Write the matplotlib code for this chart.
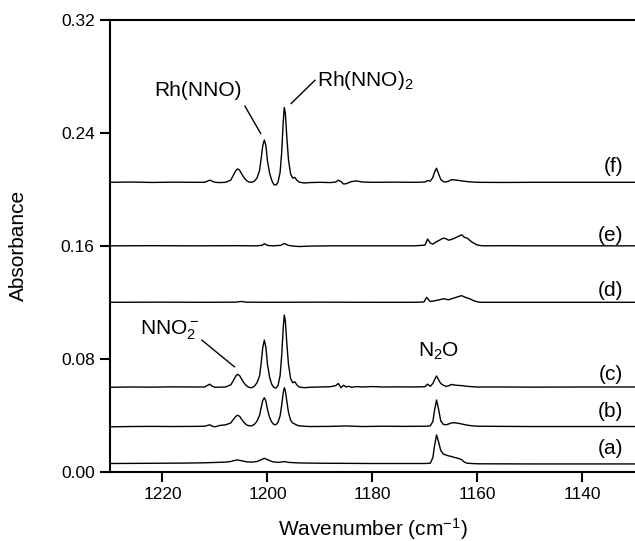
import matplotlib
matplotlib.use("Agg")
import matplotlib.pyplot as plt
import numpy as np

plt.rcParams['font.family'] = ['Liberation Sans', 'DejaVu Sans']
plt.rcParams['mathtext.fontset'] = 'custom'
plt.rcParams['mathtext.rm'] = 'Liberation Sans'
plt.rcParams['mathtext.it'] = 'Liberation Sans:italic'

# (wavenumber, absorbance) points
trace_a = [
    (1230, 0.0058), (1225, 0.0059), (1220, 0.0060), (1216, 0.0061), (1212, 0.0063),
    (1208, 0.0068), (1207, 0.0072), (1206.5, 0.0078), (1205.7, 0.0083), (1205, 0.0078),
    (1204, 0.0070), (1203, 0.0068), (1202, 0.0072), (1201, 0.0088), (1200.6, 0.0095),
    (1200, 0.0085), (1199, 0.0070), (1198, 0.0066), (1197, 0.0070), (1196.8, 0.0072),
    (1196, 0.0066), (1194, 0.0062), (1190, 0.0060), (1185, 0.0059), (1180, 0.0058),
    (1175, 0.0058), (1170, 0.0058), (1169, 0.0060), (1168.5, 0.0100), (1168.2, 0.0180),
    (1167.8, 0.0260), (1167.4, 0.0210), (1167, 0.0150), (1166.5, 0.0125), (1166, 0.0118),
    (1165.5, 0.0112), (1165, 0.0108), (1164.5, 0.0102), (1164, 0.0098), (1163.5, 0.0092),
    (1163, 0.0085), (1162.5, 0.0068), (1162, 0.0060), (1160, 0.0056), (1150, 0.0055),
    (1140, 0.0055), (1130, 0.0055),
]

trace_b = [
    (1230, 0.0318), (1226, 0.0320), (1222, 0.0321), (1218, 0.0320), (1214, 0.0321),
    (1212, 0.0322), (1211, 0.0332), (1210.5, 0.0322), (1210, 0.0318), (1209, 0.0328),
    (1208, 0.0332), (1207, 0.0345), (1206.5, 0.0370), (1206, 0.0393), (1205.7, 0.0400),
    (1205.3, 0.0392), (1205, 0.0375), (1204.5, 0.0350), (1204, 0.0332), (1203.5, 0.0325),
    (1203, 0.0325), (1202.5, 0.0335), (1202, 0.0358), (1201.5, 0.0400), (1201.2, 0.0455),
    (1200.9, 0.0505), (1200.6, 0.0524), (1200.3, 0.0500), (1200, 0.0440), (1199.6, 0.0385),
    (1199.2, 0.0352), (1198.8, 0.0335), (1198.4, 0.0332), (1198, 0.0350), (1197.6, 0.0395),
    (1197.3, 0.0470), (1197.0, 0.0560), (1196.8, 0.0595), (1196.6, 0.0575), (1196.3, 0.0495),
    (1196, 0.0420), (1195.6, 0.0365), (1195.2, 0.0345), (1194.8, 0.0338), (1194.4, 0.0330),
    (1194, 0.0325), (1193, 0.0322), (1192, 0.0320), (1188, 0.0321), (1185, 0.0324),
    (1182, 0.0320), (1178, 0.0322), (1174, 0.0321), (1170, 0.0322), (1169.5, 0.0323),
    (1169, 0.0325), (1168.5, 0.0355), (1168.2, 0.0430), (1167.8, 0.0508), (1167.4, 0.0440),
    (1167, 0.0360), (1166.5, 0.0335), (1166, 0.0332), (1165.5, 0.0338), (1165, 0.0345),
    (1164.5, 0.0347), (1164, 0.0345), (1163.5, 0.0342), (1163, 0.0338), (1162, 0.0330),
    (1161, 0.0325), (1160, 0.0322), (1155, 0.0321), (1150, 0.0320), (1140, 0.0320),
    (1130, 0.0320),
]

trace_c = [
    (1230, 0.0598), (1226, 0.0600), (1222, 0.0599), (1218, 0.0601), (1214, 0.0600),
    (1212, 0.0600), (1211, 0.0620), (1210.5, 0.0605), (1210, 0.0598), (1208, 0.0600),
    (1207, 0.0615), (1206.5, 0.0645), (1206, 0.0680), (1205.7, 0.0690), (1205.3, 0.0680),
    (1205, 0.0660), (1204.5, 0.0630), (1204, 0.0608), (1203.5, 0.0597), (1203, 0.0595),
    (1202.5, 0.0605), (1202, 0.0630), (1201.5, 0.0680), (1201.2, 0.0770), (1200.9, 0.0880),
    (1200.6, 0.0932), (1200.3, 0.0880), (1200, 0.0760), (1199.6, 0.0670), (1199.2, 0.0620),
    (1198.8, 0.0597), (1198.4, 0.0592), (1198, 0.0610), (1197.6, 0.0680), (1197.3, 0.0820),
    (1197.0, 0.1020), (1196.8, 0.1110), (1196.6, 0.1070), (1196.3, 0.0900), (1196, 0.0760),
    (1195.6, 0.0660), (1195.2, 0.0630), (1194.8, 0.0637), (1194.4, 0.0615), (1194, 0.0600),
    (1193, 0.0595), (1192, 0.0598), (1190, 0.0600), (1188, 0.0602), (1187, 0.0610),
    (1186.5, 0.0625), (1186, 0.0595), (1185.5, 0.0612), (1185, 0.0600), (1184.5, 0.0605),
    (1184, 0.0598), (1183, 0.0603), (1182, 0.0600), (1180, 0.0603), (1178, 0.0600),
    (1175, 0.0601), (1172, 0.0600), (1170, 0.0602), (1169.5, 0.0620), (1169, 0.0605),
    (1168.5, 0.0625), (1168.2, 0.0650), (1167.8, 0.0678), (1167.4, 0.0650), (1167, 0.0625),
    (1166.5, 0.0612), (1166, 0.0605), (1165.5, 0.0608), (1165, 0.0618), (1164.5, 0.0615),
    (1164, 0.0612), (1163, 0.0610), (1162, 0.0605), (1161, 0.0602), (1160, 0.0600),
    (1155, 0.0600), (1150, 0.0599), (1140, 0.0600), (1130, 0.0600),
]

trace_d = [
    (1230, 0.1200), (1220, 0.1201), (1212, 0.1200), (1206, 0.1201), (1205, 0.1206),
    (1204, 0.1201), (1200, 0.1200), (1190, 0.1201), (1180, 0.1200), (1172, 0.1200),
    (1170.2, 0.1202), (1169.7, 0.1235), (1169, 0.1205), (1168, 0.1212), (1167, 0.1220),
    (1166.5, 0.1225), (1165.5, 0.1218), (1164.5, 0.1230), (1163.5, 0.1242), (1163, 0.1247),
    (1162.5, 0.1238), (1161.5, 0.1225), (1160.5, 0.1208), (1159.5, 0.1200), (1150, 0.1200),
    (1140, 0.1200), (1130, 0.1200),
]

trace_e = [
    (1230, 0.1600), (1222, 0.1601), (1214, 0.1600), (1206, 0.1601), (1202, 0.1600),
    (1201, 0.1604), (1200.6, 0.1615), (1200, 0.1603), (1199, 0.1600), (1197.5, 0.1603),
    (1196.8, 0.1617), (1196, 0.1603), (1195, 0.1598), (1194, 0.1595), (1192, 0.1598),
    (1188, 0.1600), (1180, 0.1600), (1172, 0.1600), (1170, 0.1605), (1169.5, 0.1648),
    (1169, 0.1620), (1168.5, 0.1612), (1168, 0.1625), (1167, 0.1645), (1166.5, 0.1655),
    (1166, 0.1650), (1165.5, 0.1640), (1165, 0.1645), (1164.5, 0.1652), (1164, 0.1660),
    (1163.5, 0.1670), (1163, 0.1678), (1162.5, 0.1660), (1162, 0.1655), (1161.5, 0.1640),
    (1161, 0.1625), (1160, 0.1605), (1159, 0.1600), (1155, 0.1601), (1150, 0.1600),
    (1140, 0.1600), (1130, 0.1600),
]

trace_f = [
    (1230, 0.2050), (1226, 0.2052), (1222, 0.2049), (1218, 0.2051), (1214, 0.2050),
    (1212, 0.2050), (1211, 0.2065), (1210, 0.2050), (1209, 0.2048), (1208, 0.2050),
    (1207, 0.2065), (1206.5, 0.2100), (1206, 0.2135), (1205.7, 0.2145), (1205.3, 0.2135),
    (1205, 0.2115), (1204.5, 0.2085), (1204, 0.2062), (1203.5, 0.2052), (1203, 0.2050),
    (1202.5, 0.2058), (1202, 0.2080), (1201.5, 0.2135), (1201.2, 0.2220), (1200.9, 0.2310),
    (1200.6, 0.2350), (1200.3, 0.2310), (1200, 0.2200), (1199.6, 0.2115), (1199.2, 0.2065),
    (1198.8, 0.2035), (1198.4, 0.2030), (1198, 0.2050), (1197.6, 0.2120), (1197.3, 0.2260),
    (1197.0, 0.2480), (1196.8, 0.2580), (1196.6, 0.2540), (1196.3, 0.2360), (1196, 0.2210),
    (1195.6, 0.2110), (1195.2, 0.2080), (1194.8, 0.2085), (1194.4, 0.2065), (1194, 0.2052),
    (1193, 0.2045), (1192, 0.2048), (1190, 0.2050), (1188, 0.2048), (1187, 0.2052),
    (1186.5, 0.2065), (1186, 0.2055), (1185.5, 0.2038), (1185, 0.2040), (1184.5, 0.2048),
    (1184, 0.2055), (1183, 0.2060), (1182, 0.2052), (1180, 0.2050), (1176, 0.2051),
    (1172, 0.2050), (1170, 0.2052), (1169.5, 0.2062), (1169, 0.2058), (1168.5, 0.2085),
    (1168.2, 0.2120), (1167.8, 0.2150), (1167.4, 0.2110), (1167, 0.2070), (1166.5, 0.2055),
    (1166, 0.2052), (1165.5, 0.2058), (1165, 0.2068), (1164.5, 0.2068), (1164, 0.2065),
    (1163.5, 0.2063), (1163, 0.2060), (1162, 0.2055), (1161, 0.2052), (1160, 0.2050),
    (1155, 0.2049), (1150, 0.2050), (1140, 0.2050), (1130, 0.2050),
]

traces = [trace_a, trace_b, trace_c, trace_d, trace_e, trace_f]
trace_names = ['(a)', '(b)', '(c)', '(d)', '(e)', '(f)']
name_y = [0.0166, 0.0425, 0.069, 0.1286, 0.1676, 0.216]

fig = plt.figure(figsize=(6.35, 5.41), dpi=100)
ax = fig.add_axes([0.1732, 0.1281, 0.8268, 0.835])

for tr in traces:
    x, y = zip(*tr)
    ax.plot(x, y, color='black', linewidth=1.0)

for name, yy in zip(trace_names, name_y):
    ax.text(1132.3, yy, name, ha='right', va='center', fontsize=15)

# peak labels with leader lines
ax.text(1213.2, 0.270, 'Rh(NNO)', ha='center', va='center', fontsize=15)
ax.plot([1204.3, 1201.3], [0.259, 0.2396], color='black', linewidth=1.0)
ax.text(1190.6, 0.2773, r'Rh(NNO)$_2$', ha='left', va='center', fontsize=15)
ax.plot([1195.5, 1190.95], [0.2608, 0.2773], color='black', linewidth=1.0)
ax.text(1218.6, 0.1003, r'NNO$_2^-$', ha='center', va='center', fontsize=15)
ax.plot([1212.5, 1206.3], [0.0932, 0.0743], color='black', linewidth=1.0)
ax.text(1167.5, 0.085, r'N$_2$O', ha='center', va='center', fontsize=15)

ax.set_xlim(1230, 1130)
ax.set_ylim(0, 0.32)
ax.set_xticks([1220, 1200, 1180, 1160, 1140])
ax.set_yticks([0.00, 0.08, 0.16, 0.24, 0.32])
ax.set_yticklabels(['0.00', '0.08', '0.16', '0.24', '0.32'])
ax.tick_params(direction='out', length=7, width=1.5, labelsize=12.5, pad=4)
ax.spines['right'].set_visible(False)
for s in ['left', 'bottom', 'top']:
    ax.spines[s].set_linewidth(1.5)

ax.set_xlabel(r'Wavenumber (cm$^{-1}$)', fontsize=15, labelpad=10)
ax.set_ylabel('Absorbance', fontsize=15, labelpad=24)

fig.savefig('out.png', dpi=100)
